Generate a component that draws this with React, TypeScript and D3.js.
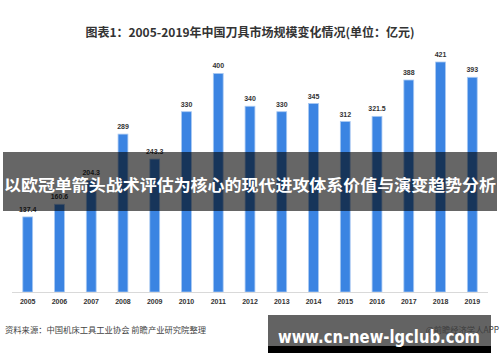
import React from "react";
import * as d3 from "d3";

const years = ["2005", "2006", "2007", "2008", "2009", "2010", "2011", "2012", "2013", "2014", "2015", "2016", "2017", "2018", "2019"];
const values = [137.4, 160.6, 204.3, 289, 243.3, 330, 400, 340, 330, 345, 312, 321.5, 388, 421, 393];
const valueLabels = ["137.4", "160.6", "204.3", "289", "243.3", "330", "400", "340", "330", "345", "312", "321.5", "388", "421", "393"];

const title = "图表1：2005-2019年中国刀具市场规模变化情况(单位：亿元)";
const source = "资料来源：中国机床工具工业协会 前瞻产业研究院整理";
const credit = "@前瞻经济学人APP";
const banner = "以欧冠单箭头战术评估为核心的现代进攻体系价值与演变趋势分析";
const site = "www.cn-new-lgclub.com";

const W = 500;
const H = 362;
const font = "'Noto Sans CJK SC', 'Noto Sans', sans-serif";

export default function App() {
  const x = d3.scaleBand().domain(years).range([12, 488]).paddingInner(0.69).paddingOuter(0.34);
  const y = d3.scaleLinear().domain([0, 421]).range([292, 62]);

  return (
    <svg width={W} height={H} style={{ position: "absolute", left: 0, top: 0, background: "#fff" }}>
      <text x={250} y={37} textAnchor="middle" fontFamily={font} fontSize={12} fontWeight="bold" fill="#333">
        {title}
      </text>

      {years.map((yr, i) => (
        <g key={yr}>
          <rect
            x={x(yr)}
            y={y(values[i])}
            width={x.bandwidth()}
            height={y(0) - y(values[i])}
            fill="#3b84e2"
            stroke="#a9c9f2"
            strokeWidth={0.8}
          />
          <text
            x={x(yr)! + x.bandwidth() / 2}
            y={y(values[i]) - 5}
            textAnchor="middle"
            fontFamily="'Liberation Sans', Arial, sans-serif"
            fontSize={7}
            fontWeight="bold"
            fill="#333"
          >
            {valueLabels[i]}
          </text>
          <text
            x={x(yr)! + x.bandwidth() / 2}
            y={304}
            textAnchor="middle"
            fontFamily="'Liberation Sans', Arial, sans-serif"
            fontSize={7}
            fontWeight="bold"
            fill="#333"
          >
            {yr}
          </text>
        </g>
      ))}
      <line x1={12} x2={488} y1={292.5} y2={292.5} stroke="#d9d9d9" strokeWidth={1} />

      <text x={5} y={333} fontFamily={font} fontSize={8.3} fill="#444">
        {source}
      </text>
      <text x={499} y={333} textAnchor="end" fontFamily={font} fontSize={8.3} fill="#444">
        {credit}
      </text>

      {/* overlay banner */}
      <rect x={3} y={152} width={494} height={59} fill="rgba(0,0,0,0.6)" />
      <text
        x={250}
        y={191}
        textAnchor="middle"
        fontFamily={font}
        fontSize={16}
        fontWeight="bold"
        fill="#fff"
        textLength={492}
        lengthAdjust="spacingAndGlyphs"
      >
        {banner}
      </text>

      {/* site banner */}
      <rect x={268} y={315} width={223} height={31} fill="rgba(60,60,60,0.8)" />
      <rect x={268} y={346} width={223} height={7} fill="#000" />
      <text
        x={379}
        y={343}
        textAnchor="middle"
        fontFamily="'DejaVu Sans', sans-serif"
        fontSize={18}
        fontWeight="bold"
        fill="#fff"
        textLength={202}
        lengthAdjust="spacingAndGlyphs"
      >
        {site}
      </text>
    </svg>
  );
}
